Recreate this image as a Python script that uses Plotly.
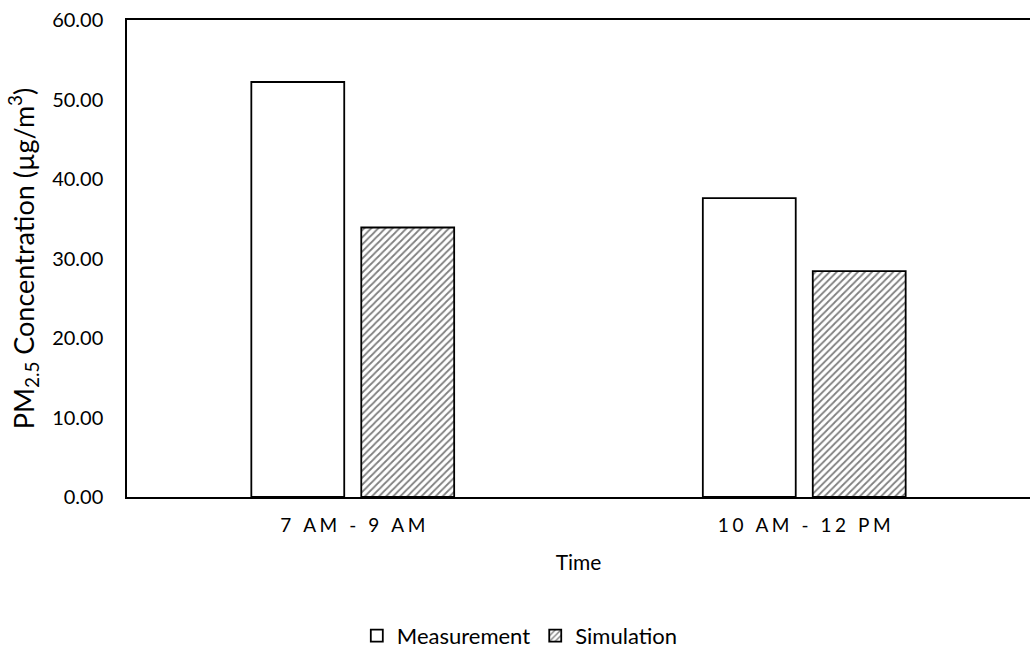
import plotly.graph_objects as go

categories = ["7 AM - 9 AM", "10 AM - 12 PM"]
measurement = [52.2, 37.6]
simulation = [33.9, 28.4]
y_ticks = [0, 10, 20, 30, 40, 50, 60]
y_tick_labels = ["0.00", "10.00", "20.00", "30.00", "40.00", "50.00", "60.00"]

FONT = "Lato"
SP = "\u2009\u200a"  # letter spacing emulation


def spaced(s):
    return SP.join(list(s.replace(" ", "\u00a0")))


tick_text = [spaced(c) for c in categories]

fig = go.Figure()
fig.add_trace(go.Bar(
    x=categories, y=measurement, name="Measurement",
    marker=dict(color="white", line=dict(color="black", width=1.8)),
))
fig.add_trace(go.Bar(
    x=categories, y=simulation, name="Simulation",
    marker=dict(color="white", line=dict(color="black", width=1.8),
                pattern=dict(shape="/", fgcolor="black", bgcolor="white",
                             size=5, solidity=0.35)),
))

fig.update_layout(
    width=1030, height=648,
    margin=dict(l=127, r=0, t=20, b=151, autoexpand=False),
    paper_bgcolor="white", plot_bgcolor="white",
    barmode="group", bargap=0.513, bargroupgap=0.155,
    font=dict(family=FONT, size=20, color="#000000"),
    showlegend=True,
    legend=dict(orientation="h", x=0.435, xanchor="center", y=-0.291, yanchor="middle",
                font=dict(size=22), itemwidth=30, traceorder="normal"),
    xaxis=dict(
        showline=True, linecolor="black", linewidth=1.5, mirror=True,
        showgrid=False, ticks="", tickfont=dict(size=19),
        tickvals=categories, ticktext=tick_text, ticklabelstandoff=10,
        title=dict(text="Time", font=dict(size=21), standoff=21),
    ),
    yaxis=dict(
        range=[0, 60], tickvals=y_ticks, ticktext=y_tick_labels,
        showline=True, linecolor="black", linewidth=1.5, mirror=False,
        showgrid=False, zeroline=False, ticks="", ticklabelstandoff=18,
        tickfont=dict(size=20),
        title=dict(text="PM<sub>2.5</sub> Concentration (µg/m<sup>3</sup>)",
                   font=dict(size=27), standoff=10),
    ),
)

fig.write_html("out.html")
